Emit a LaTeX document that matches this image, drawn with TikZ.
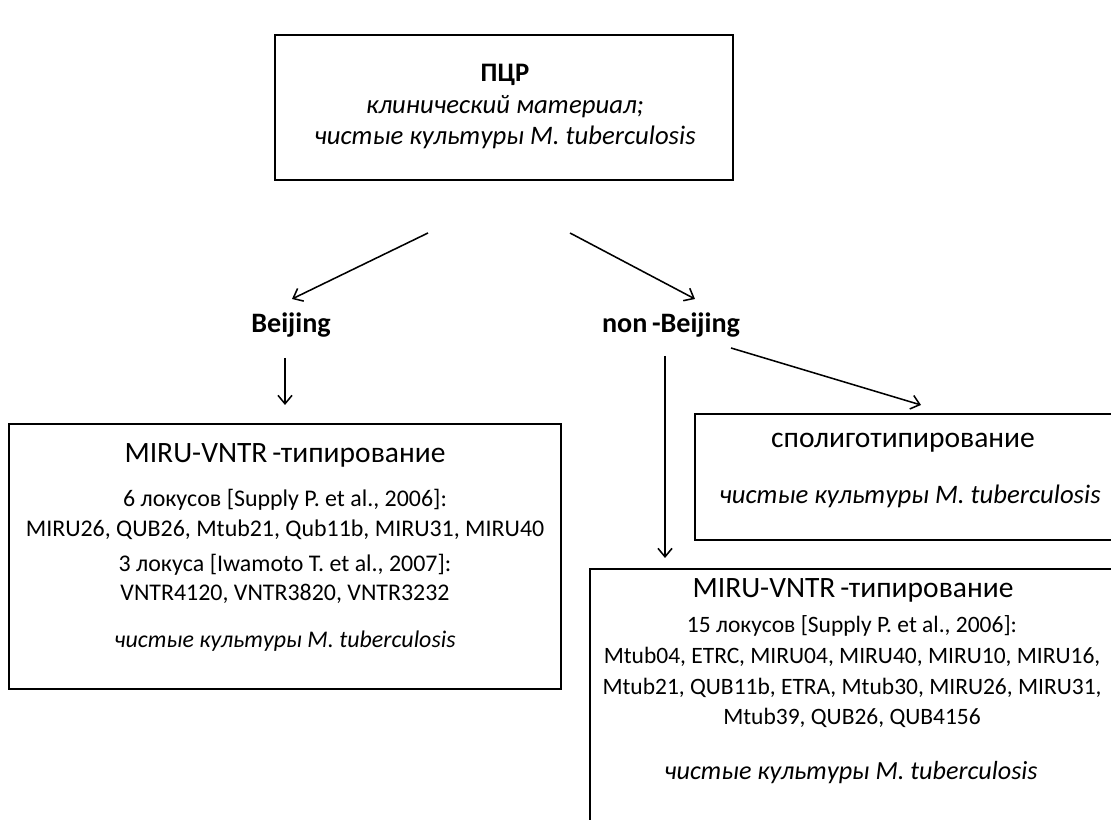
\documentclass[tikz,border=0pt]{standalone}
\usepackage{fontspec}
\setmainfont{Carlito}
\usetikzlibrary{arrows.meta, positioning}
\tikzstyle{frame_box} = [rectangle, draw=black, line width=1.4pt, inner sep=0pt]
\tikzstyle{box_text} = [align=center, inner sep=0pt, anchor=base]
\tikzstyle{head_text} = [inner sep=0pt, anchor=base, font=\fontsize{21}{25}\selectfont]
\tikzstyle{branch_label} = [inner sep=0pt, anchor=base, font=\bfseries\fontsize{20}{24}\selectfont]
\tikzstyle{flow_arrow} = [line width=1.1pt, -{Straight Barb[length=6pt, width=10pt]}]

\begin{document}
\begin{tikzpicture}[x=0.025cm, y=0.025cm]
\useasboundingbox (0,0) rectangle (1111,820);
\clip (0,0) rectangle (1111,820);

% Rahmen
\node (pcr) [frame_box, minimum width=11.45cm, minimum height=3.625cm] at (504,712.5) {};
\node (beijing_box) [frame_box, minimum width=13.8cm, minimum height=6.625cm] at (285,263.5) {};
\node (spoligo_box) [frame_box, minimum width=10.575cm, minimum height=3.15cm] at (906.5,343) {};
\node (nonbeijing_box) [frame_box, minimum width=13.2cm, minimum height=7.025cm] at (854,110.5) {};

% Texte (base = letzte Zeile)
\node (pcr_text) [box_text, font=\fontsize{19}{22.6}\selectfont] at (505,675)
  {\textbf{ПЦР}\\ \textit{клинический материал;}\\ \textit{чистые культуры M. tuberculosis}};
\node (beijing) [branch_label] at (291,487) {Beijing};
\node (nonbeijing) [branch_label] at (671,487) {non\,-Beijing};

\node (beijing_head) [head_text] at (285,357) {MIRU-VNTR\,-типирование};
\node (beijing_text) [box_text, font=\fontsize{17}{21.3}\selectfont] at (285,219)
  {6 локусов [Supply P. et al., 2006]:\\ MIRU26, QUB26, Mtub21, Qub11b, MIRU31, MIRU40\\[3.6pt]
   3 локуса [Iwamoto T. et al., 2007]:\\ VNTR4120, VNTR3820, VNTR3232};
\node (beijing_note) [box_text, font=\fontsize{17}{21}\selectfont] at (285,172)
  {\textit{чистые культуры M. tuberculosis}};

\node (spoligo_head) [head_text] at (903,372) {сполиготипирование};
\node (spoligo_note) [box_text, font=\fontsize{19}{22}\selectfont] at (910,316)
  {\textit{чистые культуры M. tuberculosis}};

\node (nonbeijing_head) [head_text] at (853,222) {MIRU-VNTR\,-типирование};
\node (nonbeijing_text) [box_text, font=\fontsize{16.7}{22}\selectfont] at (852,95)
  {15 локусов [Supply P. et al., 2006]:\\ Mtub04, ETRC, MIRU04, MIRU40, MIRU10, MIRU16,\\
   Mtub21, QUB11b, ETRA, Mtub30, MIRU26, MIRU31,\\ Mtub39, QUB26, QUB4156};
\node (nonbeijing_note) [box_text, font=\fontsize{18.6}{22}\selectfont] at (851,40)
  {\textit{чистые культуры M. tuberculosis}};

% Pfeile
\coordinate (split_l) at (428,587);
\coordinate (split_r) at (570,587);
\coordinate (beijing_in) at (292,521);
\coordinate (nonbeijing_in) at (695,521);
\coordinate (beijing_out) at (285,462);
\coordinate (beijing_end) at (285,415);
\coordinate (miru_out) at (665,464);
\coordinate (miru_end) at (665,262);
\coordinate (spoligo_out) at (731,472);
\coordinate (spoligo_end) at (921,415);

\draw [flow_arrow] (split_l) -- (beijing_in);
\draw [flow_arrow] (split_r) -- (nonbeijing_in);
\draw [flow_arrow] (beijing_out) -- (beijing_end);
\draw [flow_arrow] (miru_out) -- (miru_end);
\draw [flow_arrow] (spoligo_out) -- (spoligo_end);
\end{tikzpicture}
\end{document}
